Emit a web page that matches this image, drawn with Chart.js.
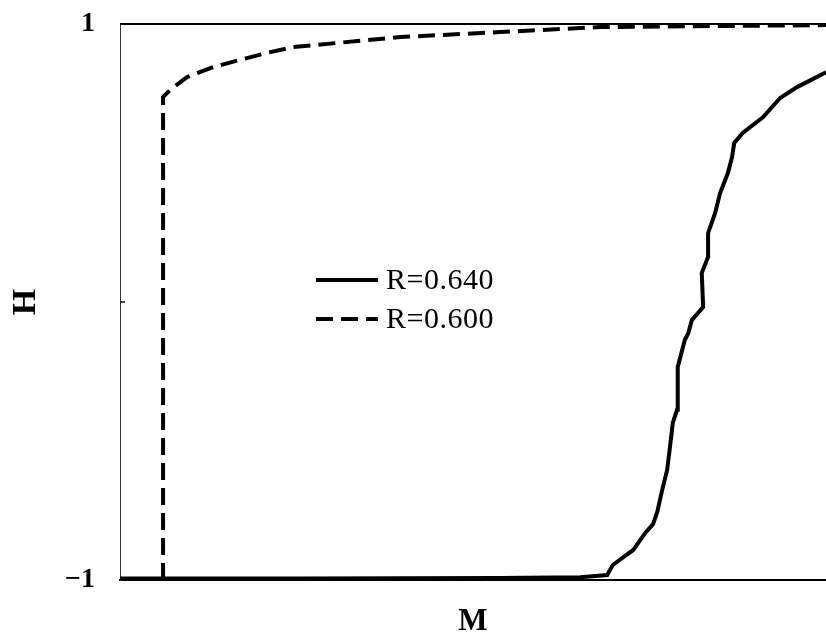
<!DOCTYPE html>
<html>
<head>
<meta charset="utf-8">
<script src="https://cdn.jsdelivr.net/npm/chart.js@4"></script>
<style>
  body { margin: 0; background: #fff; }
  canvas { display: block; }
</style>
</head>
<body>
<canvas id="chart" width="826" height="641"></canvas>
<script>
// R=0.640 (solid)
const solidM = [0, 0.255, 0.538, 0.652, 0.690, 0.698, 0.715, 0.727, 0.737, 0.744, 0.755, 0.761,
    0.768, 0.775, 0.779, 0.783, 0.789, 0.790, 0.790, 0.800, 0.805, 0.810, 0.826, 0.824, 0.833,
    0.833, 0.843, 0.850, 0.861, 0.867, 0.870, 0.882, 0.911, 0.935, 0.959, 1.0];
const solidH = [-0.995, -0.995, -0.993, -0.99, -0.982, -0.946, -0.914, -0.892, -0.856, -0.831, -0.799, -0.755,
    -0.676, -0.604, -0.522, -0.435, -0.388, -0.281, -0.234, -0.137, -0.112, -0.065, -0.018, 0.104, 0.162,
    0.248, 0.320, 0.392, 0.464, 0.522, 0.572, 0.608, 0.665, 0.734, 0.773, 0.826];

// R=0.600 (dashed)
const dashedM = [0.061, 0.061, 0.071, 0.095, 0.132, 0.170, 0.208, 0.245, 0.397, 0.538, 0.680, 1.0];
const dashedH = [-1, 0.737, 0.763, 0.809, 0.845, 0.871, 0.896, 0.917, 0.953, 0.971, 0.989, 0.996];

const seriesLabels = ['R=0.640', 'R=0.600'];
const yTicks = [-1, 0, 1];

const serif = '"Liberation Serif", "Times New Roman", serif';

function toPoints(xs, ys) {
    return xs.map((x, i) => ({ x: x, y: ys[i] }));
}

// рамка, внутренняя засечка и легенда внутри поля
const framePlugin = {
    id: 'frame',
    afterDraw(chart) {
        const ctx = chart.ctx;
        const area = chart.chartArea;
        const yScale = chart.scales.y;
        ctx.save();
        ctx.strokeStyle = '#000';
        ctx.lineWidth = 2;
        ctx.beginPath();
        ctx.moveTo(area.left, area.top);
        ctx.lineTo(area.right, area.top);
        ctx.stroke();

        ctx.lineWidth = 1.5;
        const y0 = yScale.getPixelForValue(0);
        ctx.beginPath();
        ctx.moveTo(area.left, y0);
        ctx.lineTo(area.left + 5, y0);
        ctx.stroke();

        // легенда
        const lx = area.left + 196;
        const ly = area.top + 256;
        chart.data.datasets.forEach((ds, i) => {
            const y = ly + i * 39;
            ctx.strokeStyle = ds.borderColor;
            ctx.lineWidth = ds.borderWidth;
            ctx.setLineDash(ds.borderDash || []);
            ctx.beginPath();
            ctx.moveTo(lx, y);
            ctx.lineTo(lx + 62, y);
            ctx.stroke();
            ctx.setLineDash([]);
            ctx.fillStyle = '#000';
            ctx.font = '30px ' + serif;
            ctx.letterSpacing = '0.5px';
            ctx.textAlign = 'left';
            ctx.textBaseline = 'middle';
            ctx.fillText(ds.label, lx + 70, y + 1);
        });
        ctx.restore();
    }
};

new Chart(document.getElementById('chart'), {
    type: 'line',
    data: {
        datasets: [
            {
                label: seriesLabels[0],
                data: toPoints(solidM, solidH),
                borderColor: '#000',
                borderWidth: 4,
                pointRadius: 0,
                tension: 0
            },
            {
                label: seriesLabels[1],
                data: toPoints(dashedM, dashedH),
                borderColor: '#000',
                borderWidth: 4,
                borderDash: [17, 8],
                pointRadius: 0,
                tension: 0
            }
        ]
    },
    options: {
        responsive: false,
        animation: false,
        layout: { padding: { top: 24, right: 0, bottom: 0, left: 0 } },
        plugins: {
            legend: { display: false },
            tooltip: { enabled: false }
        },
        scales: {
            x: {
                type: 'linear',
                min: 0,
                max: 1,
                grid: { display: false, drawTicks: false },
                border: { display: true, color: '#000', width: 2 },
                ticks: { display: false },
                title: {
                    display: true,
                    text: 'M',
                    color: '#000',
                    font: { family: serif, size: 31, weight: 'bold' },
                    padding: { top: 0, bottom: 0 }
                },
                afterFit(scale) { scale.height = 61; }
            },
            y: {
                min: -1,
                max: 1,
                afterBuildTicks(scale) { scale.ticks = yTicks.map(v => ({ value: v })); },
                grid: { display: false, drawTicks: false },
                border: { display: true, color: '#333', width: 1 },
                ticks: {
                    padding: 25,
                    color: '#000',
                    font: { family: serif, size: 28, weight: 'bold' },
                    callback: v => v === 0 ? '' : (v < 0 ? '\u2212' + Math.abs(v) : String(v))
                },
                title: {
                    display: true,
                    text: 'H',
                    color: '#000',
                    font: { family: serif, size: 34, weight: 'bold' },
                    padding: { top: 6, bottom: 0 }
                },
                afterFit(scale) {
                    scale.width = 120;
                    scale.paddingTop = 0;
                    scale.paddingBottom = 0;
                }
            }
        }
    },
    plugins: [framePlugin]
});
</script>
</body>
</html>
